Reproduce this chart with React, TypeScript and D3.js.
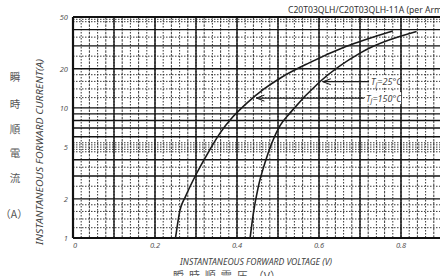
import * as React from 'react';
import * as d3 from 'd3';

// forward V-I curves (per arm)
const tj150V = [0.25, 0.261, 0.274, 0.302, 0.329, 0.359, 0.39, 0.424, 0.466, 0.506, 0.576, 0.664, 0.78];
const tj150I = [1, 1.64, 2.07, 3.16, 4.5, 6.43, 8.54, 10.9, 14.0, 17.0, 22.2, 29.5, 39.1];
const tj25V = [0.432, 0.44, 0.452, 0.468, 0.485, 0.505, 0.53, 0.602, 0.7, 0.838];
const tj25I = [1, 1.55, 2.48, 3.77, 5.38, 7.3, 9.2, 15.9, 26.4, 38.7];

const xTicks = [0, 0.2, 0.4, 0.6, 0.8];
const xTickLabels = ['0', '0.2', '0.4', '0.6', '0.8'];
const yTicks = [1, 2, 5, 10, 20, 50];
const yTickLabels = ['1', '2', '5', '10', '20', '50'];

const majorV = d3.range(0, 1.001, 0.1);
const minorV = d3.range(0, 1.001, 0.02);
const majorI = [1, 2, 3, 4, 6, 7, 8, 9, 10, 20, 30, 40, 50];
const minorI = [1.2, 1.4, 1.6, 1.8, 2.5, 3.5, 4.6, 4.8, 5, 5.2, 5.4, 12, 14, 16, 18, 25, 35, 46, 48];

const title = 'C20T03QLH/C20T03QLH-11A (per Arm)';
const yTitle = 'INSTANTANEOUS FORWARD CURRENT(A)';
const xTitle = 'INSTANTANEOUS FORWARD VOLTAGE (V)';
const yTitleJa = ['瞬', '時', '順', '電', '流', '（A）'];
const xTitleJa = '瞬  時  順  電  圧  （V）';

// annotation: label, arrow tip on curve (V, I), label start V
const notes = [
  { t: '25°C', v: 0.602, i: 15.9, lv: 0.722 },
  { t: '150°C', v: 0.44, i: 11.9, lv: 0.71 },
];

const App: React.FC = () => {
  const W = 440, H = 276;
  const x = d3.scaleLinear().domain([0, 1]).range([73, 483]);
  const y = d3.scaleLog().domain([1, 50]).range([238, 17]);

  const line = d3.line<[number, number]>()
    .x(d => x(d[0]))
    .y(d => y(d[1]))
    .curve(d3.curveMonotoneX);

  const c150 = tj150V.map((v, k) => [v, tj150I[k]] as [number, number]);
  const c25 = tj25V.map((v, k) => [v, tj25I[k]] as [number, number]);

  const sans = '"Noto Sans", "DejaVu Sans", sans-serif';

  return (
    <svg width={W} height={H} style={{ position: 'absolute', left: 0, top: 0, background: '#fff' }}>
      <defs>
        <clipPath id='plot'>
          <rect x={x(0)} y={y(50)} width={x(1) - x(0)} height={y(1) - y(50)} />
        </clipPath>
      </defs>

      {/* grid */}
      <g clipPath='url(#plot)'>
        {minorV.map((v, k) => (
          <line key={'mv' + k} x1={x(v)} x2={x(v)} y1={y(50)} y2={y(1)}
            stroke='#222' strokeWidth={0.9} strokeDasharray={k % 2 ? '1.5,1.5' : '2.5,1.2'} />
        ))}
        {minorI.map((v, k) => (
          <line key={'mi' + k} x1={x(0)} x2={x(1)} y1={y(v)} y2={y(v)}
            stroke='#222' strokeWidth={0.9} strokeDasharray='1.5,1.5' />
        ))}
        {majorV.map((v, k) => (
          <line key={'Mv' + k} x1={x(v)} x2={x(v)} y1={y(50)} y2={y(1)} stroke='#111' strokeWidth={1.4} />
        ))}
        {majorI.map((v, k) => (
          <line key={'Mi' + k} x1={x(0)} x2={x(1)} y1={y(v)} y2={y(v)} stroke='#111' strokeWidth={1.4} />
        ))}
      </g>
      <line x1={x(0)} x2={x(0)} y1={y(50)} y2={y(1)} stroke='#111' strokeWidth={2.2} />
      <line x1={x(0)} x2={x(1)} y1={y(1)} y2={y(1)} stroke='#111' strokeWidth={2.2} />
      <line x1={x(0)} x2={x(1)} y1={y(50)} y2={y(50)} stroke='#111' strokeWidth={1.8} />

      {/* curves */}
      <g clipPath='url(#plot)' fill='none' stroke='#1a1a1a' strokeWidth={1.6}>
        <path d={line(c150) || ''} />
        <path d={line(c25) || ''} />
      </g>

      {/* annotations */}
      {notes.map((n, k) => {
        const ty = y(n.i);
        const tx = x(n.v) + 3;
        const lx = x(n.lv);
        return (
          <g key={'n' + k}>
            <line x1={tx} x2={lx} y1={ty} y2={ty} stroke='#1a1a1a' strokeWidth={1.2} />
            <polyline points={`${tx + 8},${ty - 3} ${tx},${ty} ${tx + 8},${ty + 3}`} fill='none' stroke='#1a1a1a' strokeWidth={1} />
            <rect x={lx + 1} y={ty - 6} width={k === 0 ? 30 : 36} height={12} fill='#fff' />
            <text x={lx + 2} y={ty + 3.5} fontFamily={sans} fontStyle='italic' fontSize={9} fill='#444'>
              T<tspan fontSize={7} dy={1.5}>j</tspan><tspan dy={-1.5}>={n.t}</tspan>
            </text>
          </g>
        );
      })}

      {/* ticks */}
      {yTicks.map((v, k) => (
        <text key={'yt' + k} x={68} y={y(v) + 3} textAnchor='end' fontFamily={sans} fontStyle='italic' fontSize={7.5} fill='#555'>
          {yTickLabels[k]}
        </text>
      ))}
      {xTicks.map((v, k) => (
        <text key={'xt' + k} x={x(v) + (k === 0 ? 2 : 0)} y={248} textAnchor='middle' fontFamily={sans} fontStyle='italic' fontSize={7.5} fill='#555'>
          {xTickLabels[k]}
        </text>
      ))}

      {/* titles */}
      <text x={288} y={12.5} fontFamily={sans} fontSize={8.6} fill='#333'>{title}</text>
      <text transform={`translate(43,152) rotate(-90)`} textAnchor='middle' fontFamily={sans} fontStyle='italic'
        fontSize={8} fill='#444' textLength={186} lengthAdjust='spacingAndGlyphs'>
        {yTitle}
      </text>
      <text x={256} y={265} textAnchor='middle' fontFamily={sans} fontStyle='italic' fontSize={8}
        fill='#444' textLength={152} lengthAdjust='spacingAndGlyphs'>
        {xTitle}
      </text>
      <text x={173} y={280} fontFamily='"Noto Sans CJK JP", sans-serif' fontSize={11} fill='#555' xmlSpace='preserve'>
        {xTitleJa}
      </text>
      {yTitleJa.map((c, k) => (
        <text key={'ja' + k} x={k === 5 ? 14 : 15} y={[81, 108, 133, 157, 182, 218][k]} textAnchor='middle'
          fontFamily='"Noto Sans CJK JP", sans-serif' fontSize={10.5} fill='#555'>
          {c}
        </text>
      ))}
    </svg>
  );
};

export default App;
